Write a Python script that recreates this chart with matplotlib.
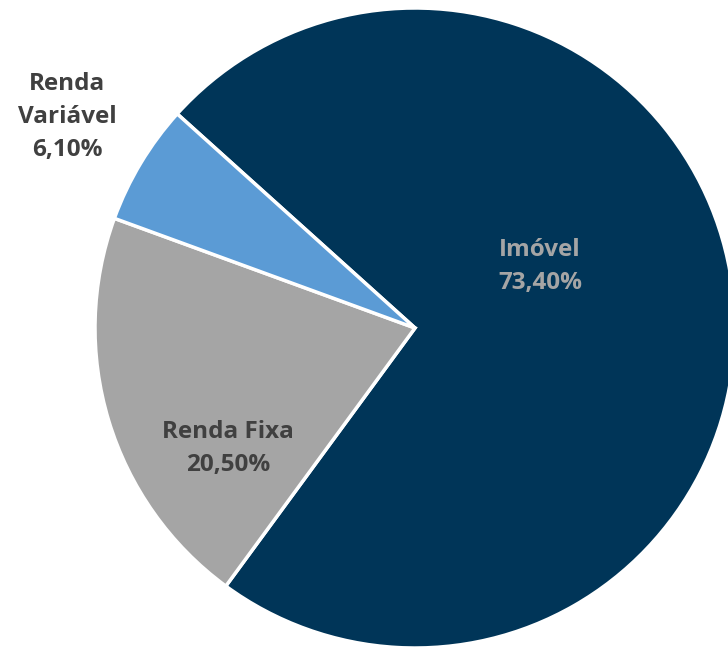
import matplotlib.pyplot as plt

# participação por classe de ativo
categorias = ['Imóvel', 'Renda Fixa', 'Renda\nVariável']
valores = [73.4, 20.5, 6.1]
cores = ['#003558', '#A5A5A5', '#5B9BD5']
cores_texto = ['#A5A5A5', '#404040', '#404040']
pos_rotulos = [(540, 266), (228, 449), (67, 117)]  # centro do texto em pixels

W, H = 728, 649
cx, cy, r = 415, 328, 320

plt.rcParams['font.family'] = ['Open Sans', 'DejaVu Sans']

fig = plt.figure(figsize=(W / 100, H / 100), dpi=100)
ax = fig.add_axes([0, 0, 1, 1])

ax.pie(valores, colors=cores, startangle=138, counterclock=False, radius=1,
       wedgeprops=dict(edgecolor='white', linewidth=2.5))

ax.set_aspect('auto')
ax.set_xlim(-cx / r, (W - cx) / r)
ax.set_ylim(-(H - cy) / r, cy / r)
ax.axis('off')

for nome, v, c, (px, py) in zip(categorias, valores, cores_texto, pos_rotulos):
    txt = f'{nome}\n{v:.2f}%'.replace('.', ',')
    ax.text((px - cx) / r, (cy - py) / r, txt, ha='center', va='center',
            fontsize=17.5, fontweight='bold', color=c, linespacing=1.5)

fig.savefig('out.png', dpi=100)
